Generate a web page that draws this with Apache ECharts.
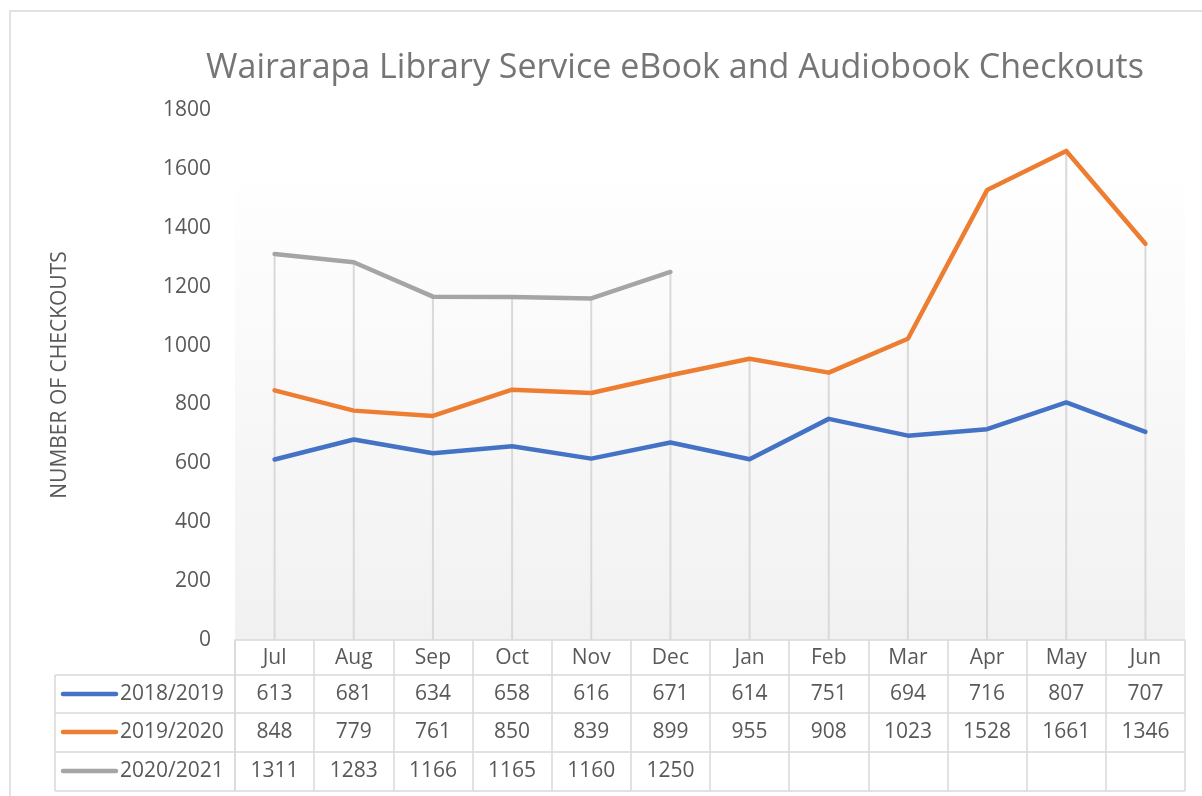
<!DOCTYPE html>
<html>
<head>
<meta charset="utf-8">
<style>
  html, body { margin: 0; padding: 0; background: #fff; }
  #chart { width: 1202px; height: 796px; }
</style>
<script src="https://cdn.jsdelivr.net/npm/echarts@6/dist/echarts.min.js"></script>
</head>
<body>
<div id="chart"></div>
<script>
var months = ['Jul', 'Aug', 'Sep', 'Oct', 'Nov', 'Dec', 'Jan', 'Feb', 'Mar', 'Apr', 'May', 'Jun']
var seriesNames = ['2018/2019', '2019/2020', '2020/2021']
var s2018 = [613, 681, 634, 658, 616, 671, 614, 751, 694, 716, 807, 707]
var s2019 = [848, 779, 761, 850, 839, 899, 955, 908, 1023, 1528, 1661, 1346]
var s2020 = [1311, 1283, 1166, 1165, 1160, 1250, null, null, null, null, null, null]
var colors = ['#4472c4', '#ed7d31', '#a5a5a5']

var FONT = 'Open Sans'
var TEXT = '#595959'
var GRIDLINE = '#d9d9d9'

var allSeries = [s2018, s2019, s2020]
// drop lines: from highest point of each month down to the axis
var dropData = months.map(function (m, i) {
  var vals = allSeries.map(function (s) { return s[i] }).filter(function (v) { return v != null })
  return Math.max.apply(null, vals)
})

var chart = echarts.init(document.getElementById('chart'))

var lineSeries = seriesNames.map(function (name, i) {
  return {
    name: name,
    type: 'line',
    data: allSeries[i],
    symbol: 'none',
    z: 3,
    lineStyle: { color: colors[i], width: 4.5, cap: 'round', join: 'round' },
    itemStyle: { color: colors[i] },
    animation: false
  }
})

chart.setOption({
  backgroundColor: '#fff',
  title: {
    text: 'Wairarapa Library Service eBook and Audiobook Checkouts',
    left: 670,
    textAlign: 'center',
    top: 46,
    textStyle: { fontFamily: FONT, fontSize: 34, fontWeight: 'normal', color: '#757575' }
  },
  grid: {
    left: 235,
    right: 17,
    top: 110,
    bottom: 156,
    show: true,
    borderWidth: 0,
    backgroundColor: {
      type: 'linear', x: 0, y: 0, x2: 0, y2: 1,
      colorStops: [{ offset: 0, color: '#ffffff' }, { offset: 0.1, color: '#ffffff' }, { offset: 1, color: '#f1f1f1' }]
    }
  },
  xAxis: {
    type: 'category',
    data: months,
    boundaryGap: true,
    axisLine: { lineStyle: { color: GRIDLINE, width: 1.5 } },
    axisTick: { show: true, length: 151, lineStyle: { color: GRIDLINE, width: 1.5 } },
    axisLabel: { color: TEXT, fontFamily: FONT, fontSize: 21, margin: 8 },
    splitLine: { show: false }
  },
  yAxis: {
    type: 'value',
    min: 0,
    max: 1800,
    interval: 200,
    name: 'NUMBER OF CHECKOUTS',
    nameLocation: 'middle',
    nameGap: 164,
    nameTextStyle: { color: TEXT, fontFamily: FONT, fontSize: 21 },
    axisLine: { show: false },
    axisTick: { show: false },
    splitLine: { show: false },
    axisLabel: {
      color: TEXT, fontFamily: FONT, fontSize: 21, margin: 24,
      formatter: function (v) { return String(v) }
    }
  },
  series: [{
    type: 'bar',
    data: dropData,
    barWidth: 2,
    silent: true,
    z: 1,
    itemStyle: { color: GRIDLINE },
    animation: false
  }].concat(lineSeries)
})

// data table under the axis
function drawTable() {
  var rowLines = [675, 713, 752, 791]
  var rowCenters = [694, 732, 771]
  var left = 55
  var gl = 235
  var gr = 1185
  var els = []
  rowLines.forEach(function (y) {
    els.push({ type: 'line', shape: { x1: left, y1: y, x2: gr, y2: y }, style: { stroke: GRIDLINE, lineWidth: 1.5 }, silent: true })
  })
  els.push({ type: 'line', shape: { x1: left, y1: 675, x2: left, y2: 791 }, style: { stroke: GRIDLINE, lineWidth: 1.5 }, silent: true })
  els.push({ type: 'line', shape: { x1: gl, y1: 640, x2: gl, y2: 791 }, style: { stroke: GRIDLINE, lineWidth: 1.5 }, silent: true })
  seriesNames.forEach(function (name, r) {
    var cy = rowCenters[r]
    els.push({ type: 'line', shape: { x1: 63, y1: cy, x2: 116, y2: cy }, style: { stroke: colors[r], lineWidth: 4.5, lineCap: 'round' }, silent: true })
    els.push({ type: 'text', x: 120, y: cy, style: { text: name, fill: TEXT, font: '21px "' + FONT + '"', textAlign: 'left', textVerticalAlign: 'middle' }, silent: true })
    allSeries[r].forEach(function (v, i) {
      if (v == null) return
      var x = chart.convertToPixel({ xAxisIndex: 0 }, months[i])
      els.push({ type: 'text', x: x, y: cy, style: { text: String(v), fill: TEXT, font: '21px "' + FONT + '"', textAlign: 'center', textVerticalAlign: 'middle' }, silent: true })
    })
  })
  // outer border of the chart area
  els.push({ type: 'rect', shape: { x: 10, y: 11, width: 1200, height: 790 }, style: { fill: 'none', stroke: '#d9d9d9', lineWidth: 1.5 }, silent: true })
  chart.setOption({ graphic: els })
}
drawTable()
</script>
</body>
</html>
